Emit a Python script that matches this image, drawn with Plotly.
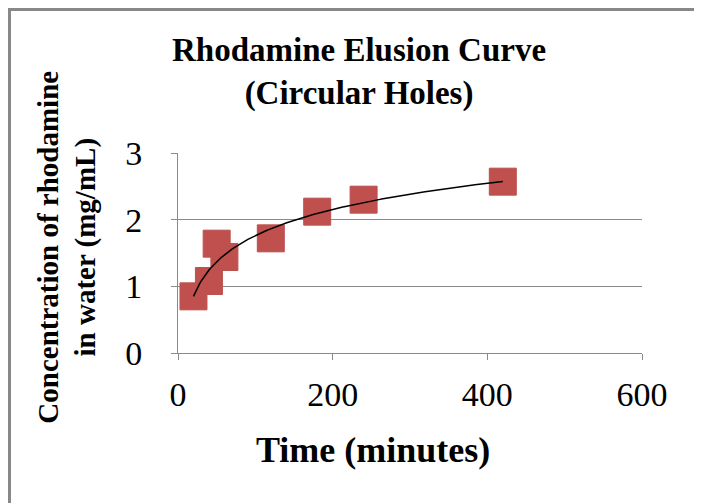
import plotly.graph_objects as go
import numpy as np

# Elution data
time_min = [20, 40, 50, 60, 120, 180, 240, 420]
conc = [0.85, 1.08, 1.64, 1.44, 1.72, 2.12, 2.30, 2.57]

x_ticks = [0, 200, 400, 600]
y_ticks = [0, 1, 2, 3]

# Logarithmic trendline, like Excel's
a, b = np.polyfit(np.log(time_min), conc, 1)
trend_x = np.linspace(min(time_min), max(time_min), 200)
trend_y = a * np.log(trend_x) + b

serif = "Liberation Serif"
grey = "#8a8a8a"

fig = go.Figure()

fig.add_trace(go.Scatter(
    x=time_min,
    y=conc,
    mode="markers",
    marker=dict(symbol="square", size=27, color="#C0504D",
                line=dict(width=1, color="#bb524f")),
    showlegend=False,
))

fig.add_trace(go.Scatter(
    x=trend_x,
    y=trend_y,
    mode="lines",
    line=dict(color="black", width=1.5),
    showlegend=False,
))

# page body has an 8px margin, so keep the figure inside the window
fig.update_layout(
    width=694,
    height=495,
    margin=dict(l=170, r=60, t=145, b=150),
    paper_bgcolor="white",
    plot_bgcolor="white",
    font=dict(family=serif, color="black"),
    xaxis=dict(
        range=[0, 600],
        tickvals=x_ticks,
        showgrid=False,
        zeroline=False,
        showline=True,
        linecolor=grey,
        ticks="outside",
        ticklen=6,
        tickcolor=grey,
        ticklabelstandoff=5,
        tickfont=dict(size=34),
    ),
    yaxis=dict(
        range=[0, 3],
        tickvals=y_ticks,
        showgrid=True,
        gridcolor=grey,
        zeroline=False,
        showline=True,
        linecolor=grey,
        ticks="outside",
        ticklen=6,
        tickcolor=grey,
        ticklabelstandoff=22,
        tickfont=dict(size=34),
    ),
)

# titles placed to match the Excel layout
fig.add_annotation(
    text="<b>Rhodamine Elusion Curve<br>(Circular Holes)</b>",
    xref="paper", yref="paper", x=0.39, y=1.405,
    showarrow=False, font=dict(size=33), xanchor="center", yanchor="middle",
)
fig.add_annotation(
    text="<b>Concentration of rhodamine<br>in water (mg/mL)</b>",
    xref="paper", yref="paper", x=-0.24, y=0.53, textangle=-90,
    showarrow=False, font=dict(size=29), xanchor="center", yanchor="middle",
)
fig.add_annotation(
    text="<b>Time (minutes)</b>",
    xref="paper", yref="paper", x=0.42, y=-0.485,
    showarrow=False, font=dict(size=36), xanchor="center", yanchor="middle",
)

# chart frame along the top and left edges
fig.add_shape(
    type="rect", xref="paper", yref="paper",
    x0=-168.5 / 464, y0=-2, x1=2, y1=1 + 143.5 / 200,
    line=dict(color="#888888", width=3), layer="below",
)

fig.write_html("out.html", config={"displayModeBar": False})
